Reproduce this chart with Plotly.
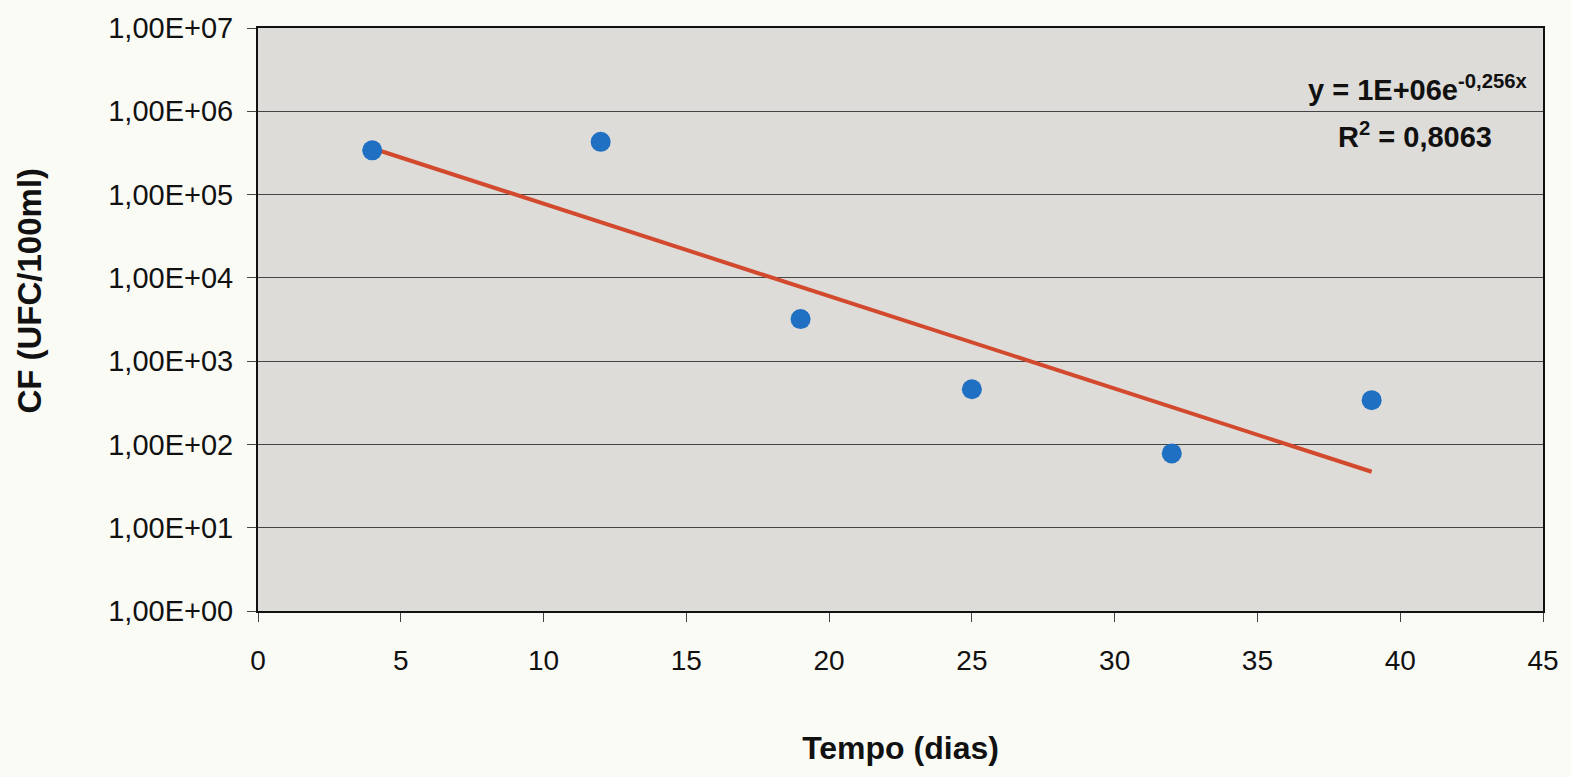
import plotly.graph_objects as go

# Data
dias = [4, 12, 19, 25, 32, 39]
cf = [3.4e5, 4.3e5, 3.2e3, 4.6e2, 78, 3.4e2]

# Exponential trendline endpoints (y = 1E+06 e^(-0,256x))
trend_x = [4, 39]
trend_y = [3.6e5, 47]

y_tickvals = [1, 10, 100, 1e3, 1e4, 1e5, 1e6, 1e7]
y_ticktext = ["1,00E+00", "1,00E+01", "1,00E+02", "1,00E+03",
              "1,00E+04", "1,00E+05", "1,00E+06", "1,00E+07"]
x_tickvals = [0, 5, 10, 15, 20, 25, 30, 35, 40, 45]

fig = go.Figure()
fig.add_trace(go.Scatter(
    x=trend_x, y=trend_y, mode="lines",
    line=dict(color="#d2492e", width=4), showlegend=False, hoverinfo="skip"))
fig.add_trace(go.Scatter(
    x=dias, y=cf, mode="markers",
    marker=dict(color="#1f6fc2", size=20, line=dict(width=0)), showlegend=False))

font = "Arial, Liberation Sans, sans-serif"
fig.update_layout(
    width=1571, height=777,
    margin=dict(l=258, r=22, t=24, b=166),
    paper_bgcolor="#fbfbf6",
    plot_bgcolor="#dddcd8",
    font=dict(family=font, size=29, color="#111111"),
    xaxis=dict(
        range=[0, 45], tickvals=x_tickvals,
        showgrid=False, zeroline=False,
        showline=True, linecolor="#111111", linewidth=2, mirror=True,
        ticks="outside", ticklen=9, tickcolor="#444444",
        ticklabelstandoff=14,
        tickfont=dict(size=28),
        title=dict(text="<b>Tempo (dias)</b>", font=dict(size=32), standoff=62),
    ),
    yaxis=dict(
        type="log", range=[0, 7],
        tickvals=y_tickvals, ticktext=y_ticktext,
        showgrid=True, gridcolor="#444444", gridwidth=1,
        zeroline=False,
        showline=True, linecolor="#111111", linewidth=2, mirror=True,
        ticks="outside", ticklen=9, tickcolor="#444444",
        ticklabelstandoff=8,
        tickfont=dict(size=29),
    ),
    annotations=[
        dict(xref="paper", yref="paper", x=-0.178, y=0.55, xanchor="center", yanchor="middle",
             text="<b>CF (UFC/100ml)</b>", textangle=-90, showarrow=False,
             font=dict(size=33, color="#111111")),
        dict(xref="paper", yref="paper", x=0.989, y=0.897, xanchor="right", yanchor="middle",
             text="<b>y = 1E+06e<sup>-0,256x</sup></b>", showarrow=False,
             font=dict(size=29, color="#111111")),
        dict(xref="paper", yref="paper", x=0.962, y=0.817, xanchor="right", yanchor="middle",
             text="<b>R<sup>2</sup> = 0,8063</b>", showarrow=False,
             font=dict(size=29, color="#111111")),
    ],
)

fig.write_html("out.html")
